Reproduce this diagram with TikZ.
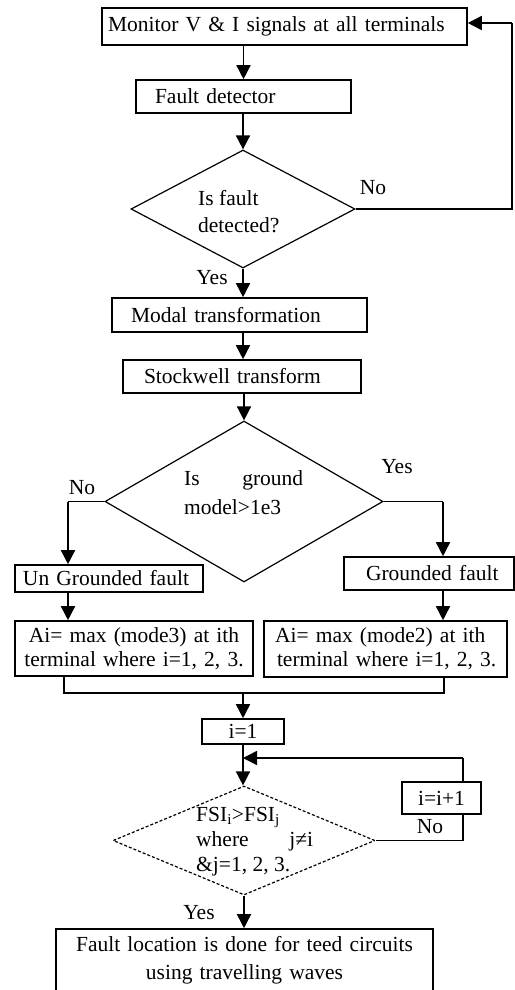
\documentclass[tikz,border=0pt]{standalone}
\usepackage{fontspec}
\setmainfont{Liberation Serif}
\usetikzlibrary{arrows.meta,shapes.geometric}
\begin{document}
\begin{tikzpicture}[x=1pt,y=-1pt,
  every node/.style={font=\fontsize{21.5}{26}\selectfont},
  box/.style={draw, line width=1.6pt, inner sep=0pt, align=left},
  dia/.style={draw, diamond, line width=1.2pt, inner sep=0pt},
  txt/.style={inner sep=0pt, align=left},
  lab/.style={inner sep=0pt},
  arr/.style={line width=1.6pt, -{Triangle[width=14pt,length=14pt]}},
  ln/.style={line width=1.6pt}]
\useasboundingbox (0,0) rectangle (514,990);
% boxes
\node[box, minimum width=365pt, minimum height=37pt, text width=365pt] (mon) at (284.5,26.5) {\hspace*{6pt}Monitor V \& I signals at all terminals};
\node[box, minimum width=215pt, minimum height=33pt, text width=215pt] (fd) at (243.5,96.5) {\hspace*{19pt}Fault detector};
\node[dia, minimum width=224pt, minimum height=118pt] (d1) at (243,209) {};
\node[txt, anchor=west, font=\fontsize{21.5}{27}\selectfont] (d1t) at (198,211.5) {Is fault\\detected?};
\node[box, minimum width=255pt, minimum height=34pt, text width=255pt] (mod) at (239.5,315) {\hspace*{19pt}Modal transformation};
\node[box, minimum width=238pt, minimum height=33pt, text width=238pt] (stw) at (242,376.5) {\hspace*{21pt}Stockwell transform};
\node[dia, minimum width=278pt, minimum height=161pt] (d2) at (244,501.5) {};
\node[txt, anchor=west, font=\fontsize{21.5}{29}\selectfont] (d2t) at (184,492.5) {\makebox[119pt][s]{Is ground}\\model>1e3};
\node[box, minimum width=188pt, minimum height=27pt, text width=188pt] (ung) at (109,578.5) {\hspace*{8pt}Un Grounded fault};
\node[box, minimum width=170pt, minimum height=33pt, text width=170pt] (gr) at (429,573.5) {\hspace*{22pt}Grounded fault};
\node[box, minimum width=238pt, minimum height=55pt, text width=238pt, align=center, font=\fontsize{21.5}{24}\selectfont] (al) at (134,648.5) {Ai= max (mode3) at ith\\terminal where i=1, 2, 3.};
\node[box, minimum width=243pt, minimum height=56pt, text width=243pt, font=\fontsize{21.5}{24}\selectfont] (ar) at (385.5,649) {\hspace*{11pt}\makebox[230pt][s]{Ai= max (mode2) at ith}\\\hspace*{13pt}terminal where i=1, 2, 3.};
\node[box, minimum width=82pt, minimum height=25pt, text width=82pt, align=center] (i1) at (243,731.5) {i=1};
\node[dia, dash pattern=on 3pt off 2pt, minimum width=262pt, minimum height=109pt] (d3) at (244,840.5) {};
\node[txt, anchor=west, font=\fontsize{21.5}{25}\selectfont] (d3t) at (196,842) {FSI\textsubscript{i}>FSI\textsubscript{j}\\\makebox[117pt][s]{where j≠i}\\\&j=1, 2, 3.};
\node[box, minimum width=79pt, minimum height=32pt, text width=79pt, align=center] (inc) at (441.5,798) {i=i+1};
\node[box, minimum width=377pt, minimum height=63pt, text width=377pt, align=center, font=\fontsize{21.5}{28}\selectfont] (fin) at (244.5,960.5) {Fault location is done for teed circuits\\using travelling waves};
% labels
\node[lab] (no1) at (373,188) {No};
\node[lab] (yes1) at (212,278) {Yes};
\node[lab] (no2) at (82,488) {No};
\node[lab] (yes2) at (397,467) {Yes};
\node[lab] (no3) at (430,827) {No};
\node[lab] (yes3) at (199,913) {Yes};
% coordinates
\coordinate (r1) at (512,23);
\coordinate (cl) at (68,501.5);
\coordinate (cr) at (443,501.5);
\coordinate (m) at (243,693);
\coordinate (j) at (243,758);
\coordinate (lp) at (463,758);
% connectors
\draw[arr] (mon.south -| fd.north) -- (fd.north);
\draw[arr] (fd.south -| d1.north) -- (d1.north);
\draw[ln] (d1.east) -| (r1);
\draw[arr] (r1) -- (r1 -| mon.east);
\draw[arr] (d1.south) -- (d1.south |- mod.north);
\draw[arr] (d1.south |- mod.south) -- (d1.south |- stw.north);
\draw[arr] (stw.south -| d2.north) -- (d2.north);
\draw[ln] (d2.west) -- (cl);
\draw[arr] (cl) -- (cl |- ung.north);
\draw[ln] (d2.east) -- (cr);
\draw[arr] (cr) -- (cr |- gr.north);
\draw[arr] (ung.south -| cl) -- (al.north -| cl);
\draw[arr] (gr.south -| cr) -- (ar.north -| cr);
\draw[ln] ([xshift=-70pt]al.south) |- (m) -| ([xshift=58.5pt]ar.south);
\draw[arr] (m) -- (m |- i1.north);
\draw[arr] (i1.south) -- (i1.south |- d3.north);
\draw[ln] (inc.north -| lp) -- (lp);
\draw[arr] (lp) -- (j);
\draw[ln] (d3.east) -| (inc.south -| lp);
\draw[arr] (d3.south) -- (d3.south |- fin.north);
\end{tikzpicture}
\end{document}
